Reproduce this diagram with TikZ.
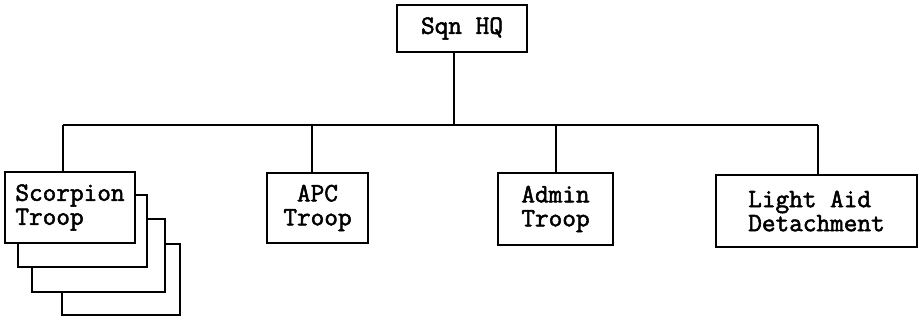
\documentclass[tikz,border=0pt]{standalone}
\usepackage{fontspec}
\newfontfamily\unitfont{Latin Modern Mono}[AutoFakeBold=2]
\begin{document}
\begin{tikzpicture}[x=1pt,y=-1pt,
  unit/.style={draw=black,line width=1.3pt,fill=white,inner sep=0pt,
    font=\unitfont\bfseries\fontsize{26.5}{24}\selectfont},
  link/.style={draw=black,line width=1.3pt}]
\useasboundingbox (0,0) rectangle (921,320);

% squadron headquarters
\node[unit,minimum width=130,minimum height=47] (hq) at (462,28.5) {Sqn HQ};

% stacked troop sheets behind the Scorpion troop
\node[unit,minimum width=118,minimum height=71] (s4) at (121,279.5) {};
\node[unit,minimum width=133,minimum height=73] (s3) at (98.5,255.5) {};
\node[unit,minimum width=129,minimum height=72] (s2) at (82.5,231) {};
\node[unit,minimum width=130,minimum height=71,align=left] (scorp) at (70,207.5) {Scorpion\\Troop};

\node[unit,minimum width=101,minimum height=70,align=center] (apc) at (317.5,208) {APC\\Troop};
\node[unit,minimum width=115,minimum height=72,align=center] (admin) at (555.5,209) {Admin\\Troop};
\node[unit,minimum width=201,minimum height=72,align=left] (lad) at (816.5,211) {Light Aid\\Detachment};

% distribution bus
\coordinate (bhq) at (454,125);
\coordinate (b1) at (63,125);
\coordinate (b2) at (312,125);
\coordinate (b3) at (556,125);
\coordinate (b4) at (818,125);

\draw[link] (bhq |- hq.south) -- (bhq);
\draw[link] (b1) -- (b4);
\draw[link] (b1) -- (b1 |- scorp.north);
\draw[link] (b2) -- (b2 |- apc.north);
\draw[link] (b3) -- (b3 |- admin.north);
\draw[link] (b4) -- (b4 |- lad.north);
\end{tikzpicture}
\end{document}
